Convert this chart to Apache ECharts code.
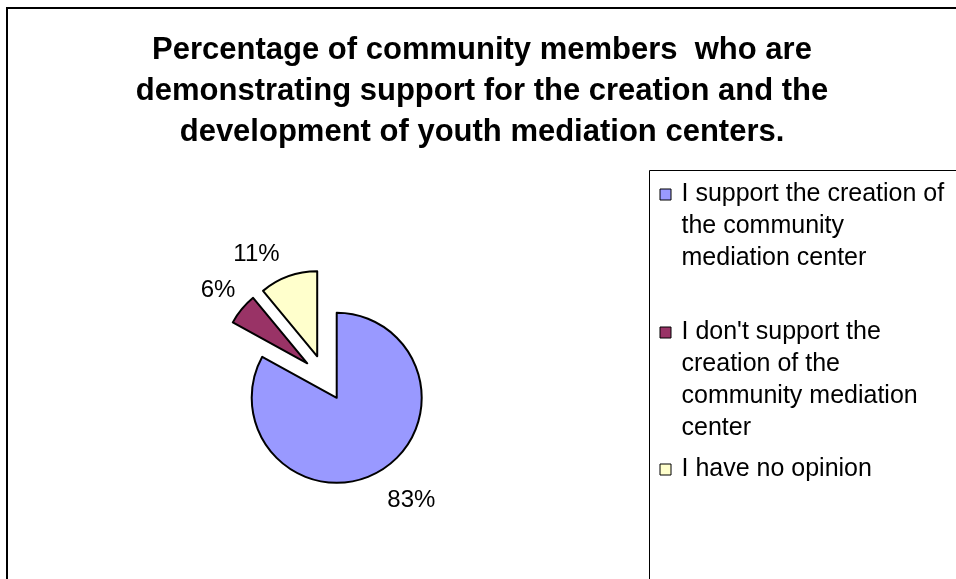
<!DOCTYPE html>
<html>
<head>
<meta charset="utf-8">
<script src="https://cdn.jsdelivr.net/npm/echarts/dist/echarts.min.js"></script>
<style>
  html, body { margin: 0; padding: 0; background: #fff; }
  #chart { width: 956px; height: 579px; }
</style>
</head>
<body>
<div id="chart"></div>
<script>
// Survey answers and their shares (percent)
const categories = [
  'I support the creation of the community mediation center',
  "I don't support the creation of the community mediation center",
  'I have no opinion'
];
const shares = [83, 6, 11];

// Legend wording, broken into the lines it is shown on
const legendLines = [
  ['I support the creation of', 'the community', 'mediation center'],
  ["I don't support the", 'creation of the', 'community mediation', 'center'],
  ['I have no opinion']
];

const titleLines = [
  'Percentage of community members  who are',
  'demonstrating support for the creation and the',
  'development of youth mediation centers.'
];

// Styling
const sliceColors = ['#9999FF', '#993366', '#FFFFCC'];
const FONT = '"Liberation Sans", Arial, sans-serif';
const LEGEND_LINE = 32;
const legendTops = [178, 316, 453];
// where each percentage label sits relative to its slice
const labelPlacement = [
  { length: 34, length2: -10 },
  { length: 29, length2: -16 },
  { length: 23, length2: 1 }
];

// legend swatch: a 12px square at the first text line, inside a box as tall as the text
function swatchPath(lines) {
  const h = lines * LEGEND_LINE;
  return 'path://M0.5,10.5L11.5,10.5L11.5,21.5L0.5,21.5ZM0,0M17,' + h;
}

const chart = echarts.init(document.getElementById('chart'), null, { renderer: 'canvas' });

const pieData = categories.map((name, i) => ({
  name: name,
  value: shares[i],
  selected: true,
  itemStyle: { color: sliceColors[i] },
  labelLine: { show: false, length: labelPlacement[i].length, length2: labelPlacement[i].length2 }
}));

const legends = categories.map((name, i) => ({
  data: [name],
  left: 659,
  top: legendTops[i],
  padding: 0,
  orient: 'vertical',
  selectedMode: false,
  icon: swatchPath(legendLines[i].length),
  itemWidth: 17,
  itemHeight: legendLines[i].length * LEGEND_LINE,
  itemStyle: { borderColor: '#000', borderWidth: 1 },
  formatter: () => legendLines[i].join('\n'),
  textStyle: {
    fontFamily: FONT,
    fontSize: 25,
    lineHeight: LEGEND_LINE,
    color: '#000'
  }
}));

chart.setOption({
  animation: false,
  backgroundColor: '#fff',
  title: {
    text: titleLines.join('\n'),
    left: 482,
    top: 30,
    padding: 0,
    textAlign: 'center',
    textStyle: {
      fontFamily: FONT,
      fontSize: 31,
      fontWeight: 'bold',
      lineHeight: 41,
      color: '#000'
    }
  },
  legend: legends,
  graphic: [
    {
      type: 'rect', silent: true, z: -10,
      shape: { x: 7, y: 8, width: 1200, height: 1000 },
      style: { fill: 'none', stroke: '#000', lineWidth: 2 }
    },
    {
      type: 'rect', silent: true, z: -10,
      shape: { x: 649.5, y: 170.5, width: 600, height: 800 },
      style: { fill: 'none', stroke: '#000', lineWidth: 1 }
    }
  ],
  series: [{
    type: 'pie',
    center: [325, 378],
    radius: 85,
    startAngle: 90,
    clockwise: true,
    selectedMode: 'multiple',
    selectedOffset: 23,
    avoidLabelOverlap: false,
    itemStyle: { borderColor: '#000', borderWidth: 2 },
    select: { itemStyle: { borderColor: '#000', borderWidth: 2 } },
    emphasis: { disabled: true },
    label: {
      show: true,
      position: 'outside',
      distanceToLabelLine: 0,
      formatter: p => p.value + '%',
      fontFamily: FONT,
      fontSize: 24,
      color: '#000'
    },
    labelLine: { show: false },
    data: pieData
  }]
});
</script>
</body>
</html>
